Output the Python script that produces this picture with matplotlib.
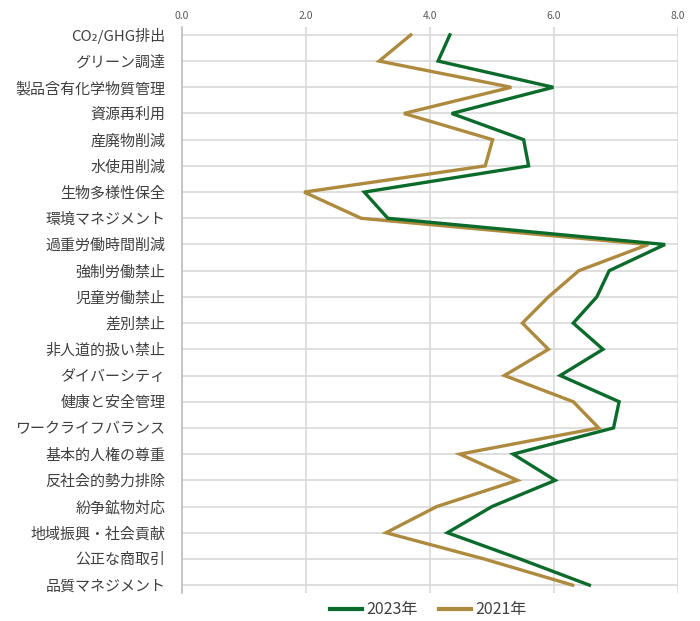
import matplotlib
matplotlib.use("Agg")
import matplotlib.pyplot as plt

plt.rcParams['font.family'] = ['Noto Sans CJK JP', 'DejaVu Sans']

categories = ["CO₂/GHG排出", "グリーン調達", "製品含有化学物質管理", "資源再利用", "産廃物削減",
              "水使用削減", "生物多様性保全", "環境マネジメント", "過重労働時間削減", "強制労働禁止",
              "児童労働禁止", "差別禁止", "非人道的扱い禁止", "ダイバーシティ", "健康と安全管理",
              "ワークライフバランス", "基本的人権の尊重", "反社会的勢力排除", "紛争鉱物対応",
              "地域振興・社会貢献", "公正な商取引", "品質マネジメント"]
values_2023 = [4.32, 4.13, 5.99, 4.35, 5.51, 5.59, 2.94, 3.32, 7.79, 6.89, 6.69,
               6.31, 6.79, 6.10, 7.05, 6.96, 5.34, 6.02, 5.00, 4.28, 5.45, 6.57]
values_2021 = [3.69, 3.18, 5.31, 3.58, 5.01, 4.89, 1.97, 2.89, 7.52, 6.40, 5.91,
               5.49, 5.91, 5.20, 6.31, 6.72, 4.48, 5.41, 4.11, 3.29, 4.87, 6.30]
x_ticks = [0, 2, 4, 6, 8]
x_ticklabels = ["0.0", "2.0", "4.0", "6.0", "8.0"]
series_names = ["2023年", "2021年"]

fig = plt.figure(figsize=(7, 6.21), dpi=100)
ax = fig.add_axes([0.26, 0.0451, 0.7086, 0.9114])

ypos = list(range(len(categories)))
ax.plot(values_2023, ypos, color="#0b6b2b", lw=2.4, label=series_names[0], zorder=3,
        solid_joinstyle='miter')
ax.plot(values_2021, ypos, color="#ad8a3e", lw=2.4, label=series_names[1], zorder=2,
        solid_joinstyle='miter')

ax.set_xlim(0, 8)
ax.set_ylim(len(categories) - 1 + 0.3, -0.3)
ax.set_yticks(ypos)
ax.set_yticklabels(categories, fontsize=10.8, color="#404040")
ax.set_xticks(x_ticks)
ax.set_xticklabels(x_ticklabels, fontsize=7.5, color="#595959")
ax.xaxis.tick_top()
ax.tick_params(axis='both', length=0)
ax.tick_params(axis='x', pad=4)
ax.tick_params(axis='y', pad=12)

ax.grid(True, color="#d9d9d9", lw=1.2)
ax.set_axisbelow(True)
for s in ['top', 'right', 'bottom']:
    ax.spines[s].set_visible(False)
ax.spines['left'].set_color("#bfbfbf")
ax.spines['left'].set_linewidth(1.2)

leg = fig.legend(loc='center', bbox_to_anchor=(0.612, 0.018), ncol=2, frameon=False,
                 fontsize=11.5, handlelength=2.0, columnspacing=1.3, handletextpad=0.3)
for line in leg.get_lines():
    line.set_linewidth(3)
for t in leg.get_texts():
    t.set_color("#404040")

fig.savefig("out.png", dpi=100)
